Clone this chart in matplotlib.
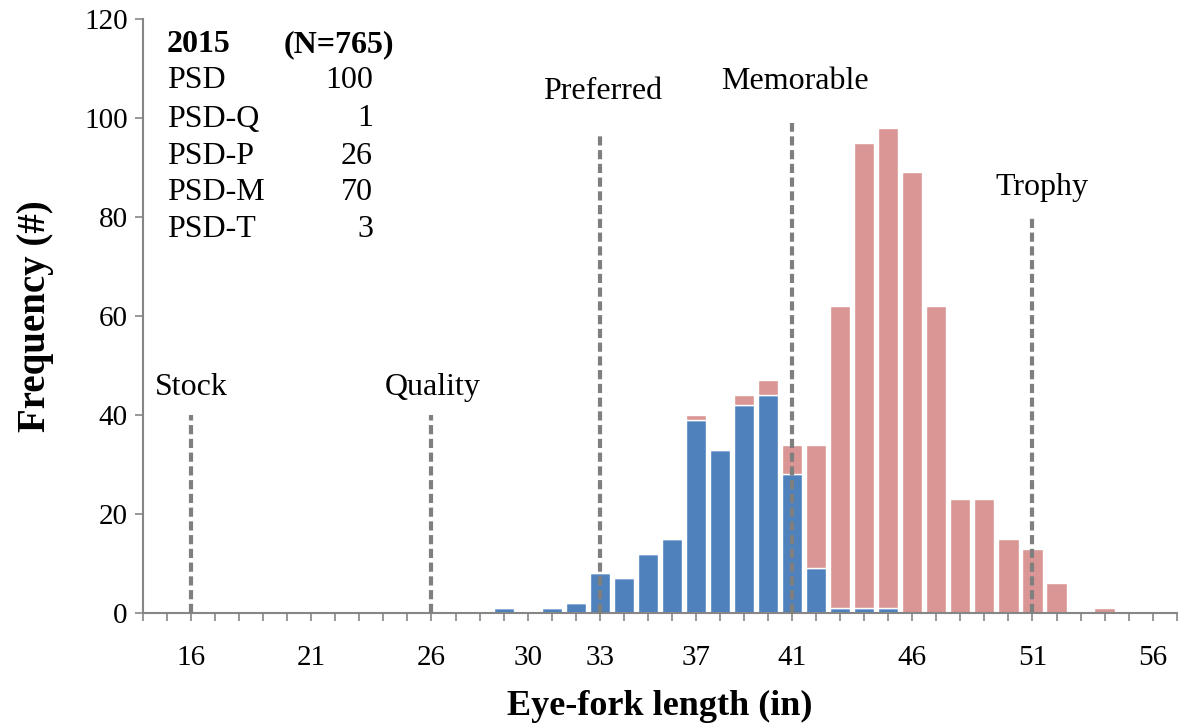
import matplotlib
matplotlib.use("Agg")
import matplotlib.pyplot as plt
from matplotlib.ticker import MultipleLocator, FixedLocator

plt.rcParams['font.family'] = ['Liberation Serif', 'DejaVu Serif']

lengths = list(range(29, 55))
blue_vals = [1, 0, 1, 2, 8, 7, 12, 15, 39, 33, 42, 44, 28, 9, 1, 1, 1, 0, 0, 0, 0, 0, 0, 0, 0, 0]
pink_vals = [0, 0, 0, 0, 0, 0, 0, 0, 1, 0, 2, 3, 6, 25, 61, 94, 97, 89, 62, 23, 23, 15, 13, 6, 0, 1]

xtick_labels = [16, 21, 26, 30, 33, 37, 41, 46, 51, 56]

cat_names = ["Stock", "Quality", "Preferred", "Memorable", "Trophy"]
cat_x = [16, 26, 33, 41, 51]
cat_top = [40, 40, 97, 99, 80]
cat_label_x = [16, 26.05, 33.1, 41.1, 51.4]
cat_label_y = [45.5, 45.5, 105.3, 107.3, 86]

table_names = ["PSD", "PSD-Q", "PSD-P", "PSD-M", "PSD-T"]
table_vals = [100, 1, 26, 70, 3]

fig = plt.figure(figsize=(11.85, 7.24), dpi=100)
ax = fig.add_axes([0.1207, 0.1533, 0.8723, 0.8205])

blue = "#4F81BD"
pink = "#D99694"
ax.bar(lengths, blue_vals, width=0.84, color=blue, edgecolor="white", linewidth=1, zorder=2)
ax.bar(lengths, pink_vals, width=0.84, bottom=blue_vals, color=pink, edgecolor="white", linewidth=1, zorder=2)

for x, top in zip(cat_x, cat_top):
    ax.plot([x, x], [0, top], linestyle=(0, (2.2, 1.1)), color="#7F7F7F", linewidth=3.0,
            solid_capstyle="butt", dash_capstyle="butt", zorder=3)
for name, lx, ly in zip(cat_names, cat_label_x, cat_label_y):
    ax.text(lx, ly, name, ha="center", va="center", fontsize=23)

ax.set_xlim(14, 57)
ax.set_ylim(0, 120)
ax.yaxis.set_major_locator(MultipleLocator(20))
ax.xaxis.set_major_locator(FixedLocator(xtick_labels))
ax.xaxis.set_minor_locator(MultipleLocator(1))
ax.set_xticklabels([str(v) for v in xtick_labels])

for s in ["top", "right"]:
    ax.spines[s].set_visible(False)
for s in ["left", "bottom"]:
    ax.spines[s].set_color("#868686")
    ax.spines[s].set_linewidth(1.5)

ax.tick_params(axis="y", which="major", length=6, width=1.2, color="#868686", labelsize=21, pad=5)
ax.tick_params(axis="x", which="both", length=6, width=1.2, color="#868686", labelsize=21, pad=17)

ax.set_xlabel("Eye-fork length (in)", fontsize=26, fontweight="bold", labelpad=14)
ax.set_ylabel("Frequency (#)", fontsize=28, fontweight="bold", labelpad=22)

def fx(px):
    return px / 1185.0
def fy(py):
    return 1 - py / 724.0

fig.text(fx(167), fy(45), "2015", fontsize=23, fontweight="bold", ha="left", va="center")
fig.text(fx(394), fy(45), "(N=765)", fontsize=23, fontweight="bold", ha="right", va="center")
row_y = [80, 119, 156, 193, 229]
for name, val, yy in zip(table_names, table_vals, row_y):
    fig.text(fx(167), fy(yy), name, fontsize=23, ha="left", va="center")
    fig.text(fx(373), fy(yy), str(val), fontsize=23, ha="right", va="center")

fig.savefig("out.png", dpi=100)
